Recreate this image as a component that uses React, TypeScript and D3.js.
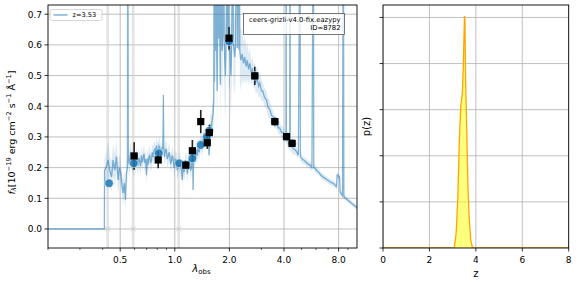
import React from 'react';
import * as d3 from 'd3';

// model spectrum: [wavelength (um), flux, uncertainty]
const specPoints: [number, number, number][] = [
  [0.2, 0, 0], [0.405, 0, 0], [0.409, 0, 0], [0.41, 0.19, 0.04], [0.42, 0.203, 0.05],
  [0.429, 0.225, 0.06], [0.438, 0.19, 0.05], [0.448, 0.17, 0.05], [0.457, 0.225, 0.05],
  [0.467, 0.192, 0.05], [0.477, 0.236, 0.05], [0.487, 0.16, 0.05], [0.495, 0.2, 0.04],
  [0.504, 0.183, 0.04], [0.512, 0.14, 0.04], [0.519, 0.117, 0.04], [0.527, 0.15, 0.04],
  [0.535, 0.095, 0.04], [0.541, 0.18, 0.04], [0.548, 0.2, 0.04], [0.551, 1.2, 0],
  [0.554, 0.24, 0.04], [0.559, 0.21, 0.04], [0.565, 0.225, 0.04], [0.571, 0.25, 0.04],
  [0.577, 0.22, 0.03], [0.583, 0.235, 0.03], [0.589, 0.192, 0.03], [0.596, 0.215, 0.03],
  [0.602, 0.23, 0.03], [0.608, 0.205, 0.03], [0.615, 0.236, 0.03], [0.621, 0.215, 0.03],
  [0.628, 0.21, 0.03], [0.634, 0.232, 0.03], [0.641, 0.22, 0.03], [0.648, 0.205, 0.03],
  [0.655, 0.24, 0.03], [0.662, 0.218, 0.03], [0.669, 0.23, 0.03], [0.676, 0.245, 0.03],
  [0.684, 0.215, 0.03], [0.691, 0.228, 0.03], [0.698, 0.175, 0.03], [0.705, 0.23, 0.03],
  [0.713, 0.21, 0.03], [0.72, 0.235, 0.03], [0.728, 0.24, 0.03], [0.736, 0.215, 0.03],
  [0.744, 0.225, 0.03], [0.752, 0.25, 0.03], [0.76, 0.235, 0.03], [0.768, 0.255, 0.03],
  [0.776, 0.26, 0.03], [0.784, 0.24, 0.03], [0.793, 0.272, 0.03], [0.801, 0.255, 0.03],
  [0.81, 0.25, 0.03], [0.818, 0.27, 0.03], [0.827, 0.265, 0.03], [0.836, 0.24, 0.03],
  [0.845, 0.25, 0.03], [0.853, 0.268, 0.03], [0.86, 0.26, 0.03], [0.865, 0.437, 0.03],
  [0.87, 0.255, 0.03], [0.877, 0.235, 0.03], [0.885, 0.25, 0.03], [0.892, 0.262, 0.03],
  [0.9, 0.254, 0.03], [0.909, 0.228, 0.03], [0.918, 0.235, 0.03], [0.928, 0.25, 0.03],
  [0.938, 0.24, 0.03], [0.948, 0.215, 0.03], [0.958, 0.22, 0.03], [0.968, 0.24, 0.03],
  [0.979, 0.23, 0.03], [0.99, 0.2, 0.03], [1.0, 0.21, 0.03], [1.011, 0.228, 0.03],
  [1.022, 0.22, 0.03], [1.033, 0.195, 0.03], [1.044, 0.2, 0.03], [1.055, 0.215, 0.03],
  [1.066, 0.22, 0.03], [1.078, 0.2, 0.03], [1.09, 0.19, 0.03], [1.1, 0.16, 0.03],
  [1.11, 0.21, 0.03], [1.122, 0.185, 0.03], [1.135, 0.198, 0.03], [1.147, 0.22, 0.03],
  [1.16, 0.215, 0.03], [1.172, 0.18, 0.03], [1.185, 0.2, 0.03], [1.197, 0.225, 0.03],
  [1.21, 0.226, 0.03], [1.222, 0.19, 0.03], [1.235, 0.2, 0.03], [1.245, 0.24, 0.03],
  [1.255, 0.235, 0.03], [1.261, 0.127, 0.03], [1.27, 0.24, 0.03], [1.28, 0.22, 0.03],
  [1.29, 0.25, 0.03], [1.303, 0.23, 0.03], [1.317, 0.258, 0.03], [1.33, 0.24, 0.03],
  [1.345, 0.27, 0.03], [1.36, 0.25, 0.03], [1.375, 0.265, 0.03], [1.39, 0.285, 0.03],
  [1.404, 0.28, 0.03], [1.417, 0.26, 0.03], [1.43, 0.29, 0.03], [1.445, 0.3, 0.03],
  [1.46, 0.3, 0.03], [1.478, 0.28, 0.03], [1.496, 0.312, 0.03], [1.513, 0.29, 0.03],
  [1.53, 0.3, 0.03], [1.545, 0.24, 0.04], [1.559, 0.312, 0.03], [1.575, 0.34, 0.04],
  [1.59, 0.33, 0.04], [1.61, 0.36, 0.05], [1.626, 0.377, 0.06], [1.64, 0.42, 0.08],
  [1.65, 1.2, 0], [1.655, 0.48, 0.1], [1.668, 1.2, 0], [1.675, 0.58, 0.14], [1.69, 1.2, 0],
  [1.7, 0.6, 0.15], [1.712, 0.45, 0.15], [1.72, 0.62, 0.15], [1.735, 1.2, 0], [1.742, 0.62, 0.15],
  [1.753, 1.2, 0], [1.76, 0.63, 0.15], [1.77, 0.639, 0.15], [1.785, 0.47, 0.15], [1.8, 1.2, 0],
  [1.81, 0.64, 0.15], [1.825, 0.58, 0.15], [1.84, 0.63, 0.15], [1.858, 1.2, 0], [1.87, 0.63, 0.15],
  [1.885, 0.55, 0.15], [1.9, 0.5, 0.15], [1.92, 0.62, 0.15], [1.94, 1.0, 0], [1.95, 0.6, 0.15],
  [1.966, 1.2, 0], [1.975, 0.62, 0.14], [1.99, 0.58, 0.14], [2.01, 0.616, 0.14], [2.04, 0.5, 0.14],
  [2.06, 0.61, 0.13], [2.09, 1.2, 0], [2.1, 0.6, 0.13], [2.11, 0.6, 0.13], [2.14, 0.56, 0.12],
  [2.16, 0.595, 0.12], [2.202, 1.2, 0], [2.21, 0.59, 0.12], [2.245, 1.2, 0], [2.255, 0.585, 0.12],
  [2.268, 1.2, 0], [2.28, 0.584, 0.1], [2.31, 0.55, 0.1], [2.35, 0.57, 0.08], [2.39, 0.54, 0.07],
  [2.43, 0.56, 0.07], [2.47, 0.53, 0.06], [2.51, 0.55, 0.06], [2.55, 0.52, 0.05],
  [2.591, 0.54, 0.05], [2.64, 0.51, 0.04], [2.68, 0.52, 0.04], [2.72, 0.495, 0.04],
  [2.761, 0.502, 0.04], [2.8, 0.48, 0.04], [2.85, 0.49, 0.04], [2.9, 0.465, 0.04],
  [2.942, 0.475, 0.04], [3.0, 0.45, 0.035], [3.05, 0.45, 0.03], [3.12, 0.43, 0.03],
  [3.203, 0.42, 0.03], [3.27, 0.395, 0.03], [3.34, 0.39, 0.03], [3.41, 0.37, 0.025],
  [3.483, 0.366, 0.02], [3.56, 0.35, 0.02], [3.64, 0.345, 0.02], [3.72, 0.33, 0.02],
  [3.792, 0.328, 0.02], [3.87, 0.315, 0.02], [3.95, 0.315, 0.02], [4.03, 0.302, 0.02],
  [4.1, 0.3, 0.02], [4.108, 1.2, 0], [4.12, 0.3, 0.02], [4.2, 0.285, 0.02], [4.3, 0.275, 0.02],
  [4.318, 1.2, 0], [4.33, 0.272, 0.02], [4.41, 0.27, 0.02], [4.49, 0.262, 0.02],
  [4.59, 0.258, 0.015], [4.689, 0.252, 0.015], [4.8, 0.24, 0.015], [4.906, 1.2, 0],
  [4.92, 0.235, 0.015], [4.996, 0.23, 0.015], [5.12, 0.225, 0.012], [5.25, 0.22, 0.012],
  [5.4, 0.212, 0.012], [5.551, 0.209, 0.012], [5.7, 0.2, 0.012], [5.81, 1.2, 0],
  [5.83, 0.2, 0.012], [5.914, 0.198, 0.012], [6.08, 0.19, 0.01], [6.25, 0.183, 0.01],
  [6.4, 0.175, 0.01], [6.571, 0.169, 0.01], [6.85, 0.162, 0.01], [7.155, 0.154, 0.01],
  [7.5, 0.148, 0.01], [7.791, 0.138, 0.01], [7.85, 0.176, 0.01], [8.1, 0.17, 0.01],
  [8.15, 0.12, 0.01], [8.404, 0.108, 0.01], [8.49, 1.2, 0], [8.55, 0.105, 0.01],
  [8.9, 0.096, 0.008], [9.222, 0.089, 0.008], [9.6, 0.08, 0.008], [10.04, 0.071, 0.008],
  [10.2, 0.068, 0.008],
];

// observed photometry
const obsWave = [0.597, 0.81, 1.15, 1.25, 1.39, 1.51, 1.55, 1.99, 2.76, 3.56, 4.13, 4.43];
const obsFlux = [0.238, 0.225, 0.208, 0.255, 0.35, 0.281, 0.314, 0.622, 0.499, 0.35, 0.301, 0.279];
const obsErr = [0.045, 0.027, 0.012, 0.035, 0.038, 0.02, 0.026, 0.036, 0.03, 0.015, 0.012, 0.012];

// model photometry
const modelWave = [0.434, 0.594, 0.816, 1.056, 1.15, 1.25, 1.39, 1.5, 1.55, 1.99, 2.76, 3.56, 4.13, 4.43];
const modelFlux = [0.149, 0.214, 0.247, 0.214, 0.21, 0.23, 0.274, 0.301, 0.32, 0.611, 0.499, 0.35, 0.301, 0.279];

// filters without valid data
const badWave = [0.427, 0.59, 1.05];

// p(z)
const zGrid = [0, 3.0, 3.07, 3.15, 3.22, 3.29, 3.35, 3.42, 3.46, 3.51, 3.53, 3.56, 3.61, 3.66, 3.71, 3.78, 3.86, 3.95, 8];
const pzVals = [0, 0, 0, 0.32, 1.04, 2.35, 3.07, 3.36, 3.94, 5.03, 4.96, 3.6, 2.49, 1.33, 0.68, 0.17, 0, 0, 0];

const xTicks = [0.5, 1, 2, 4, 8];
const xTickLabels = ['0.5', '1.0', '2.0', '4.0', '8.0'];
const xMinor = [0.2, 0.3, 0.4, 0.6, 0.7, 0.8, 0.9, 3, 5, 6, 7, 9];
const yTicks = [0, 0.1, 0.2, 0.3, 0.4, 0.5, 0.6, 0.7];
const zTicks = [0, 2, 4, 6, 8];
const pTicks = [0, 1, 2, 3, 4, 5];

const FONT = 'DejaVu Sans';
const BLUE = '#1f77b4';
const GRID = '#b0b0b0';

export default function App() {
  const L = { x0: 48, x1: 357, y0: 5, y1: 248 };
  const R = { x0: 383, x1: 568.7, y0: 5, y1: 248 };
  const x = d3.scaleLog().domain([0.2, 10.1]).range([L.x0, L.x1]);
  const y = d3.scaleLinear().domain([-0.062, 0.73]).range([L.y1, L.y0]);
  const xz = d3.scaleLinear().domain([0, 8]).range([R.x0, R.x1]);
  const yp = d3.scaleLinear().domain([0, 5.27]).range([R.y1, R.y0]);

  const specLine = d3.line<[number, number, number]>().x(d => x(d[0])).y(d => y(d[1]));
  const specArea = d3.area<[number, number, number]>()
    .x(d => x(d[0])).y0(d => y(d[1] - d[2])).y1(d => y(d[1] + d[2]));

  const pzData = zGrid.map((z, i) => [z, pzVals[i]] as [number, number]);
  const pzLine = d3.line<[number, number]>().x(d => xz(d[0])).y(d => yp(d[1]));
  const pzArea = d3.area<[number, number]>().x(d => xz(d[0])).y0(yp(0)).y1(d => yp(d[1]));

  const tickStyle = { fontFamily: FONT, fontSize: 9, fill: '#000' } as const;

  return (
    <svg width={576} height={288} style={{ position: 'absolute', left: 0, top: 0, background: '#fff' }}
      fontFamily={FONT}>
      <defs>
        <clipPath id="clipL"><rect x={L.x0} y={L.y0} width={L.x1 - L.x0} height={L.y1 - L.y0} /></clipPath>
        <clipPath id="clipR"><rect x={R.x0} y={R.y0} width={R.x1 - R.x0} height={R.y1 - R.y0} /></clipPath>
      </defs>
      <rect x={0} y={0} width={576} height={288} fill="#fff" />

      {/* ---------- left panel ---------- */}
      <g clipPath="url(#clipL)">
        {xTicks.map(t => (
          <line key={'gx' + t} x1={x(t)} x2={x(t)} y1={L.y0} y2={L.y1} stroke={GRID} strokeWidth={0.8} />
        ))}
        {yTicks.map(t => (
          <line key={'gy' + t} x1={L.x0} x2={L.x1} y1={y(t)} y2={y(t)} stroke={GRID} strokeWidth={0.8} />
        ))}
        {badWave.map(w => (
          <g key={'bad' + w}>
            <line x1={x(w)} x2={x(w)} y1={L.y0} y2={L.y1} stroke="#d0d0d0" strokeOpacity={0.6} strokeWidth={2.6} />
            <path d={`M${x(w) - 2.5},${y(0) - 2.5}L${x(w) + 2.5},${y(0) + 2.5}M${x(w) - 2.5},${y(0) + 2.5}L${x(w) + 2.5},${y(0) - 2.5}`}
              stroke="#d0d0d0" strokeWidth={1} />
          </g>
        ))}
        <path d={specArea(specPoints) || ''} fill={BLUE} fillOpacity={0.15} stroke="none" />
        <path d={specLine(specPoints) || ''} fill="none" stroke={BLUE} strokeOpacity={0.55} strokeWidth={1.3} />
        {obsWave.map((w, i) => (
          <line key={'eb' + i} x1={x(w)} x2={x(w)} y1={y(obsFlux[i] - obsErr[i])} y2={y(obsFlux[i] + obsErr[i])}
            stroke="#222" strokeWidth={1.6} />
        ))}
        {modelWave.map((w, i) => (
          <circle key={'m' + i} cx={x(w)} cy={y(modelFlux[i])} r={4.3} fill={BLUE} fillOpacity={0.85}
            stroke="#fff" strokeOpacity={0.5} strokeWidth={1} />
        ))}
        {obsWave.map((w, i) => (
          <rect key={'o' + i} x={x(w) - 3.6} y={y(obsFlux[i]) - 3.6} width={7.2} height={7.2} fill="#000" />
        ))}
      </g>

      {/* legend */}
      <rect x={50} y={9.5} width={52} height={11} rx={1.5} fill="#fff" fillOpacity={0.8} stroke="#ccc" strokeWidth={0.8} />
      <line x1={53.5} x2={67.5} y1={15} y2={15} stroke={BLUE} strokeOpacity={0.5} strokeWidth={1.6} />
      <text x={72.5} y={17.3} fontSize={6.6} fill="#000">z=3.53</text>

      {/* info box */}
      <rect x={243.5} y={13.5} width={101} height={21} fill="#fff" fillOpacity={0.8} stroke="#555" strokeWidth={0.8} />
      <text x={340.5} y={22} fontSize={6.8} textAnchor="end" fill="#000">ceers-grizli-v4.0-fix.eazypy</text>
      <text x={340.5} y={30} fontSize={6.8} textAnchor="end" fill="#000">ID=8782</text>

      {/* frame */}
      <rect x={L.x0} y={L.y0} width={L.x1 - L.x0} height={L.y1 - L.y0} fill="none" stroke="#000" strokeWidth={0.9} />

      {/* x ticks */}
      {xTicks.map((t, i) => (
        <g key={'xt' + t}>
          <line x1={x(t)} x2={x(t)} y1={L.y1} y2={L.y1 + 3.5} stroke="#000" strokeWidth={0.8} />
          <text x={x(t)} y={263} textAnchor="middle" {...tickStyle}>{xTickLabels[i]}</text>
        </g>
      ))}
      {xMinor.map(t => (
        <line key={'xm' + t} x1={x(t)} x2={x(t)} y1={L.y1} y2={L.y1 + 2} stroke="#000" strokeWidth={0.6} />
      ))}
      {/* y ticks */}
      {yTicks.map(t => (
        <g key={'yt' + t}>
          <line x1={L.x0 - 3.5} x2={L.x0} y1={y(t)} y2={y(t)} stroke="#000" strokeWidth={0.8} />
          <text x={L.x0 - 6} y={y(t) + 3.3} textAnchor="end" {...tickStyle}>{t.toFixed(1)}</text>
        </g>
      ))}

      {/* x label */}
      <text x={(L.x0 + L.x1) / 2 - 1} y={271.5} textAnchor="middle" fontSize={10} fill="#000">
        <tspan fontStyle="italic">λ</tspan>
        <tspan fontSize={7} dy={2}>obs</tspan>
      </text>

      {/* y label */}
      <text transform={`translate(14.5,${(L.y0 + L.y1) / 2 + 6}) rotate(-90)`} textAnchor="middle" fontSize={9.5} fill="#000">
        <tspan fontStyle="italic">f</tspan>
        <tspan fontSize={6.7} fontStyle="italic" dy={1.8}>λ</tspan>
        <tspan dy={-1.8}>[10</tspan>
        <tspan fontSize={6.7} dy={-3.6}>−19</tspan>
        <tspan dy={3.6}> erg cm</tspan>
        <tspan fontSize={6.7} dy={-3.6}>−2</tspan>
        <tspan dy={3.6}> s</tspan>
        <tspan fontSize={6.7} dy={-3.6}>−1</tspan>
        <tspan dy={3.6}> Å</tspan>
        <tspan fontSize={6.7} dy={-3.6}>−1</tspan>
        <tspan dy={3.6}>]</tspan>
      </text>

      {/* ---------- right panel ---------- */}
      <g clipPath="url(#clipR)">
        {zTicks.map(t => (
          <line key={'gz' + t} x1={xz(t)} x2={xz(t)} y1={R.y0} y2={R.y1} stroke={GRID} strokeWidth={0.8} />
        ))}
        {pTicks.map(t => (
          <line key={'gp' + t} x1={R.x0} x2={R.x1} y1={yp(t)} y2={yp(t)} stroke={GRID} strokeWidth={0.8} />
        ))}
        <path d={pzArea(pzData) || ''} fill="#ffff00" fillOpacity={0.5} stroke="none" />
        <path d={pzLine(pzData) || ''} fill="none" stroke="#ffa500" strokeWidth={1.3} />
      </g>
      <rect x={R.x0} y={R.y0} width={R.x1 - R.x0} height={R.y1 - R.y0} fill="none" stroke="#000" strokeWidth={0.9} />
      {zTicks.map(t => (
        <g key={'zt' + t}>
          <line x1={xz(t)} x2={xz(t)} y1={R.y1} y2={R.y1 + 3.5} stroke="#000" strokeWidth={0.8} />
          <text x={xz(t)} y={263} textAnchor="middle" {...tickStyle}>{t}</text>
        </g>
      ))}
      {pTicks.map(t => (
        <line key={'pt' + t} x1={R.x0 - 3.5} x2={R.x0} y1={yp(t)} y2={yp(t)} stroke="#000" strokeWidth={0.8} />
      ))}
      <text x={(R.x0 + R.x1) / 2} y={276.5} textAnchor="middle" fontSize={10} fill="#000">z</text>
      <text transform={`translate(370,${(R.y0 + R.y1) / 2}) rotate(-90)`} textAnchor="middle" fontSize={10} fill="#000">p(z)</text>
    </svg>
  );
}
